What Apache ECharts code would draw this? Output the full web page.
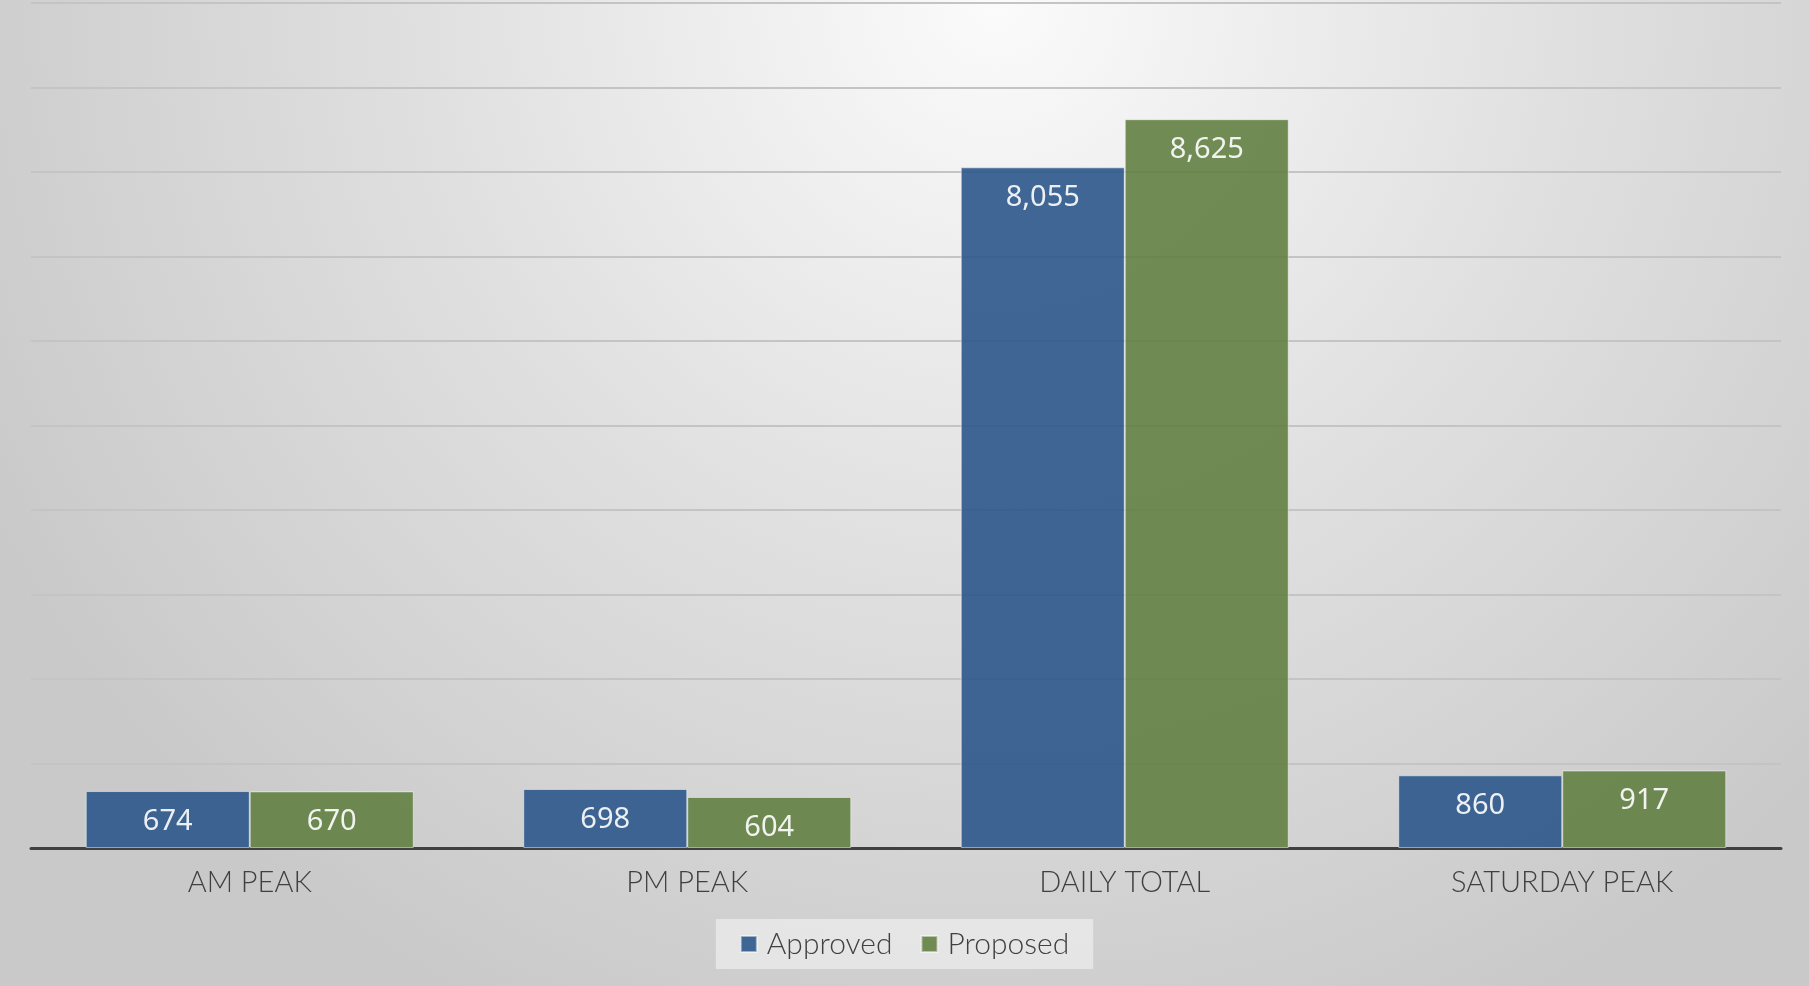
<!DOCTYPE html>
<html>
<head>
<meta charset="utf-8">
<script src="https://cdn.jsdelivr.net/npm/echarts@6/dist/echarts.min.js"></script>
<style>
  html, body { margin: 0; padding: 0; }
  #chart { width: 1809px; height: 986px; }
</style>
</head>
<body>
<div id="chart"></div>
<script>
var categories = ["AM PEAK", "PM PEAK", "DAILY TOTAL", "SATURDAY PEAK"];
var approved = [674, 698, 8055, 860];
var proposed = [670, 604, 8625, 917];
var seriesNames = ["Approved", "Proposed"];

function withCommas(v) {
  return String(v).replace(/\B(?=(\d{3})+(?!\d))/g, ",");
}

var labelStyle = {
  show: true,
  position: "insideTop",
  distance: 16,
  color: "#ffffff",
  fontSize: 29,
  fontFamily: "Noto Sans",
  formatter: function(p) { return withCommas(p.value); }
};

var option = {
  backgroundColor: {
    type: "radial",
    x: 0.55,
    y: 0,
    r: 1.15,
    colorStops: [
      { offset: 0, color: "#fbfbfb" },
      { offset: 0.5, color: "#e0e0e0" },
      { offset: 1, color: "#c9c9c9" }
    ]
  },
  grid: {
    left: 31,
    right: 28,
    top: 3,
    bottom: 138
  },
  legend: {
    data: seriesNames,
    left: "center",
    bottom: 17,
    icon: "rect",
    itemWidth: 16,
    itemHeight: 16,
    itemGap: 28,
    padding: [10, 24],
    backgroundColor: "rgba(236,236,236,0.75)",
    textStyle: {
      color: "#404040",
      fontSize: 30,
      fontFamily: "Lato",
      fontWeight: 300,
      padding: [0, 0, 0, 5]
    }
  },
  xAxis: {
    type: "category",
    data: categories,
    axisLine: { lineStyle: { color: "#404040", width: 3 } },
    axisTick: { show: false },
    axisLabel: {
      color: "#404040",
      fontSize: 29,
      fontFamily: "Lato",
      fontWeight: 300,
      margin: 20
    }
  },
  yAxis: {
    type: "value",
    min: 0,
    max: 10000,
    interval: 1000,
    axisLabel: { show: false },
    axisLine: { show: false },
    axisTick: { show: false },
    splitLine: { lineStyle: { color: "#c4c4c4", width: 2 } }
  },
  series: [
    {
      name: seriesNames[0],
      type: "bar",
      data: approved,
      barWidth: 164,
      barGap: "0%",
      itemStyle: {
        color: "#2b5789",
        opacity: 0.9,
        borderColor: "rgba(255,255,255,0.55)",
        borderWidth: 1
      },
      label: labelStyle
    },
    {
      name: seriesNames[1],
      type: "bar",
      data: proposed,
      barWidth: 164,
      itemStyle: {
        color: "#637f43",
        opacity: 0.9,
        borderColor: "rgba(255,255,255,0.55)",
        borderWidth: 1
      },
      label: labelStyle
    }
  ]
};

var myChart = echarts.init(document.getElementById("chart"));
myChart.setOption(option);
</script>
</body>
</html>
